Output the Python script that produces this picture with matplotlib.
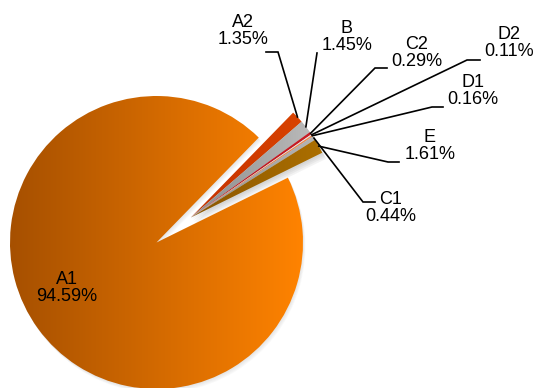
import numpy as np
import matplotlib.pyplot as plt
from matplotlib.colors import LinearSegmentedColormap
from matplotlib.patches import Wedge

plt.rcParams['font.family'] = ['Liberation Sans', 'DejaVu Sans']

# share of each component, in %
labels = ['A1', 'A2', 'B', 'C2', 'D2', 'D1', 'C1', 'E']
shares = [94.59, 1.35, 1.45, 0.29, 0.11, 0.16, 0.44, 1.61]

# left/right colour of the horizontal gradient on each slice
dark = ['#a65000', '#c43200', '#8c8c8c', '#b0101a', '#d0d0d0', '#e06a30', '#8e8e8e', '#8a5600']
light = ['#ff8300', '#e04800', '#c4c4c4', '#d02028', '#f0f0f0', '#f89050', '#bcbcbc', '#b07200']

W, H = 536, 388
CX, CY, R = 156.5, 242.5, 146.5


def px(x, y):
    # pixel position -> data coords (pie radius = 1)
    return (x - CX) / R, (CY - y) / R


fig = plt.figure(figsize=(W / 100, H / 100), dpi=100)
ax = fig.add_axes([0, 0, 1, 1])
ax.axis('off')

gap = sum(shares[1:]) * 3.6
start = 36.0 - gap / 2
wedges, _ = ax.pie(shares, startangle=start, counterclock=False, radius=1,
                   wedgeprops=dict(linewidth=0), normalize=True)

# small slices pulled out together along the middle of the gap
off = 0.29
ox, oy = off * np.cos(np.radians(36)), off * np.sin(np.radians(36))
for w in wedges[1:]:
    w.set_center((ox, oy))

# soft drop shadows
for k in range(4):
    d = (1 + k) / R
    ax.add_patch(Wedge((ox + d, oy - 1.5 * d), 1.0, start, start + gap,
                       facecolor='#606060', alpha=0.07, linewidth=0, zorder=0.5))
    ax.add_patch(Wedge((d * 0.6, -d), 1.0, start + gap, start + 360,
                       facecolor='#606060', alpha=0.04, linewidth=0, zorder=0.5))

grad = np.linspace(0, 1, 256).reshape(1, -1)
for i, w in enumerate(wedges):
    cx, cy = w.center
    cmap = LinearSegmentedColormap.from_list('g%d' % i, [dark[i], light[i]])
    if i == 0:
        x0, x1 = cx - 1, cx + 1
    else:
        x0, x1 = cx, cx + 1
    w.set_facecolor('none')
    im = ax.imshow(grad, cmap=cmap, extent=[x0, x1, cy - 1, cy + 1],
                   aspect='auto', zorder=1)
    im.set_clip_path(w)
    w.set_zorder(1)

ax.set_xlim(-CX / R, (W - CX) / R)
ax.set_ylim(-(H - CY) / R, CY / R)
ax.set_aspect('equal')

# label text centre, elbow of the leader and end of its short horizontal
layout = {
    'A2': ((243, 31), (278, 52), (266, 52)),
    'B': ((347, 37), (317, 53), (317, 53)),
    'C2': ((417, 53), (375, 68), (387, 68)),
    'D2': ((509, 43), (467, 60), (480, 60)),
    'D1': ((473, 91), (432, 107), (443, 107)),
    'E': ((430, 146), (388, 162), (399, 162)),
    'C1': ((391, 208), (363, 202), (375, 202)),
}

for i, w in enumerate(wedges):
    txt = '%s\n%.2f%%' % (labels[i], shares[i])
    if i == 0:
        x, y = px(67, 288)
        ax.text(x, y, txt, ha='center', va='center', fontsize=13,
                linespacing=1.0, color='black', zorder=5)
        continue
    mid = np.radians((w.theta1 + w.theta2) / 2)
    cx, cy = w.center
    tip = (cx + np.cos(mid), cy + np.sin(mid))
    (tx, ty), elbow, end = layout[labels[i]]
    e = px(*elbow)
    n = px(*end)
    ax.plot([tip[0], e[0], n[0]], [tip[1], e[1], n[1]], color='black',
            lw=1.2, zorder=4, solid_joinstyle='miter')
    x, y = px(tx, ty)
    ax.text(x, y, txt, ha='center', va='center', fontsize=13,
            linespacing=1.0, color='black', zorder=5)

fig.savefig('out.png', dpi=100)
